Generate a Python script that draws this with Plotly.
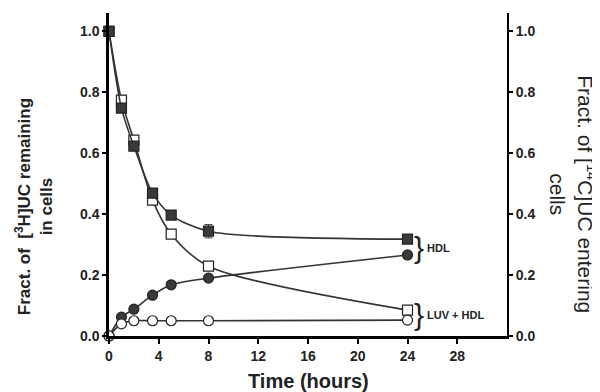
import plotly.graph_objects as go

# Time points (hours)
time_h = [0, 1, 2, 3.5, 5, 8, 24]

# [3H]UC remaining in cells (left axis)
h3_hdl = [1.0, 0.748, 0.623, 0.469, 0.397, 0.344, 0.318]        # filled squares
h3_hdl_err = [0.0, 0.012, 0.01, 0.01, 0.01, 0.022, 0.012]
h3_luv_hdl = [1.0, 0.774, 0.643, 0.446, 0.334, 0.229, 0.085]    # open squares
h3_luv_hdl_err = [0.0, 0.015, 0.01, 0.01, 0.01, 0.01, 0.01]

# [14C]UC entering cells (right axis)
c14_hdl = [0.0, 0.062, 0.088, 0.134, 0.168, 0.19, 0.266]        # filled circles
c14_luv_hdl = [0.0, 0.04, 0.05, 0.05, 0.05, 0.05, 0.052]        # open circles

x_ticks = [0, 4, 8, 12, 16, 20, 24, 28]
y_ticks = [0.0, 0.2, 0.4, 0.6, 0.8, 1.0]
y_tick_text = ["0.0", "0.2", "0.4", "0.6", "0.8", "1.0"]

FONT = "Liberation Sans, Arial, sans-serif"
LINE = "#333333"
FILL = "#3a3a3a"

fig = go.Figure()

def add(y, sym, fill, yaxis, err=None):
    fig.add_trace(go.Scatter(
        x=time_h, y=y, yaxis=yaxis, mode="lines+markers",
        line=dict(color=LINE, width=1.6, shape="spline", smoothing=0.8),
        marker=dict(symbol=sym, size=10, color=fill, line=dict(color="#222", width=1.2)),
        error_y=(dict(type="data", array=err, visible=True, color="#444", thickness=1, width=4)
                 if err is not None else None),
        cliponaxis=False, showlegend=False))

add(h3_luv_hdl, "square", "white", "y", h3_luv_hdl_err)
add(h3_hdl, "square", FILL, "y", h3_hdl_err)
add(c14_hdl, "circle", FILL, "y2")
add(c14_luv_hdl, "circle", "white", "y2")

axis_common = dict(
    range=[0, 1.06], tickvals=y_ticks, ticktext=y_tick_text,
    ticks="outside", ticklen=4, tickwidth=1.5, tickcolor="black",
    showgrid=False, zeroline=False, showline=True, linecolor="black",
    tickfont=dict(family=FONT, size=14, color="#222", weight="bold"),
)

fig.update_layout(
    width=600, height=392,
    margin=dict(l=101, r=101, t=5, b=64),
    paper_bgcolor="white", plot_bgcolor="white",
    xaxis=dict(range=[0, 32], tickvals=x_ticks, ticks="outside", ticklen=5, tickwidth=1.5,
               tickcolor="black", showgrid=False, zeroline=False, showline=True,
               linecolor="black", linewidth=2.5,
               tickfont=dict(family=FONT, size=14, color="#222", weight="bold")),
    yaxis=dict(**axis_common, linewidth=2.5),
    yaxis2=dict(**axis_common, linewidth=2, overlaying="y", side="right"),
)

annos = [
    dict(x=24.9, y=0.292, text="}", font=dict(size=30, family=FONT, color="#222"),
         xanchor="center", yanchor="middle"),
    dict(x=25.4, y=0.29, text="<b>HDL</b>", font=dict(size=11, family=FONT, color="#222"),
         xanchor="left", yanchor="middle"),
    dict(x=24.9, y=0.071, text="}", font=dict(size=30, family=FONT, color="#222"),
         xanchor="center", yanchor="middle"),
    dict(x=25.4, y=0.069, text="<b>LUV + HDL</b>", font=dict(size=11, family=FONT, color="#222"),
         xanchor="left", yanchor="middle"),
]
for a in annos:
    fig.add_annotation(**a, xref="x", yref="y", showarrow=False)

# Axis titles as paper annotations
fig.add_annotation(text="<b>Time (hours)</b>", xref="paper", yref="paper",
                   x=0.5, y=-0.139, xanchor="center", yanchor="middle", showarrow=False,
                   font=dict(size=20, family=FONT, color="#222"))

fig.add_annotation(text="<b>Fract. of  [<sup>3</sup>H]UC remaining<br>in cells</b>",
                   xref="paper", yref="paper", x=-0.19, y=0.40, textangle=-90,
                   xanchor="center", yanchor="middle", showarrow=False,
                   font=dict(size=17, family=FONT, color="#222"))
fig.add_annotation(text="Fract. of [<sup>14</sup>C]UC entering<br>cells",
                   xref="paper", yref="paper", x=1.165, y=0.44, textangle=90,
                   xanchor="center", yanchor="middle", showarrow=False,
                   font=dict(size=21, family=FONT, color="#222"))

fig.write_html("out.html")
